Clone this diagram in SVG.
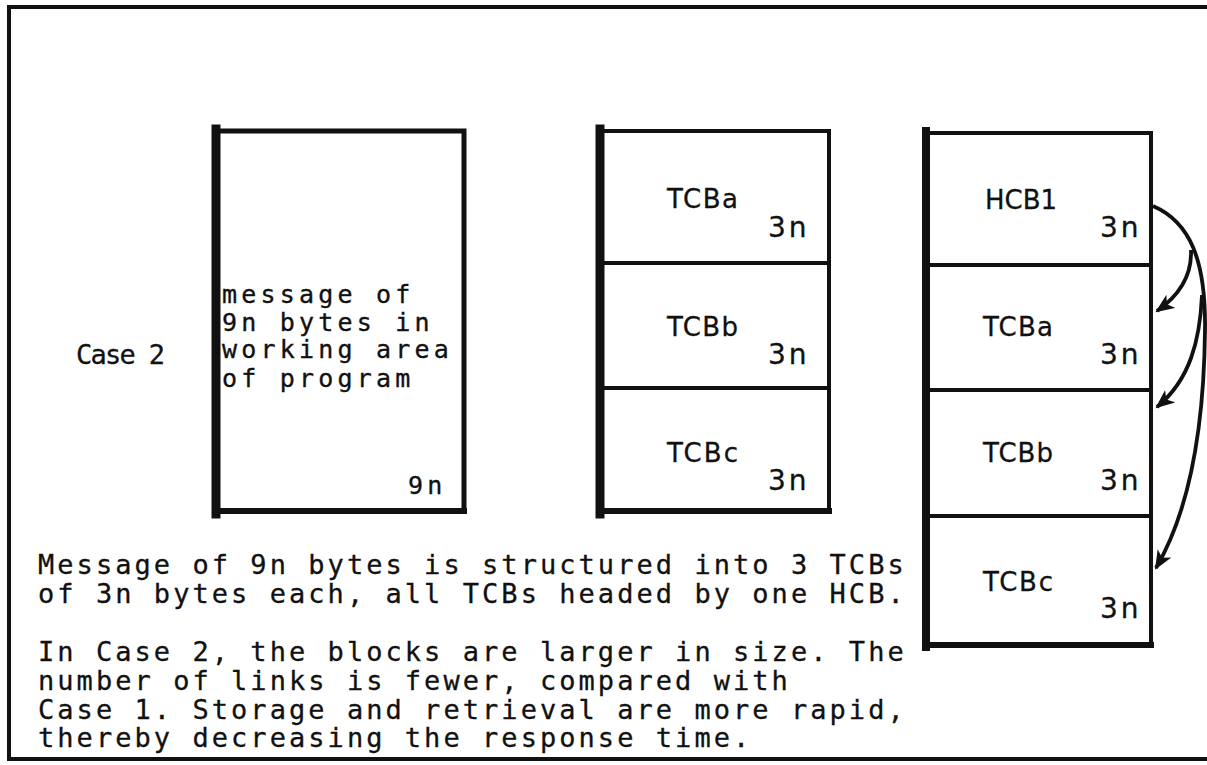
<svg xmlns="http://www.w3.org/2000/svg" width="1207" height="765" viewBox="0 0 1207 765">
<style>
.ln{fill:none;stroke:#111;stroke-linecap:square}
.body{font-family:"DejaVu Sans Mono","Liberation Mono",monospace;font-size:27px;letter-spacing:3.05px;fill:#111;stroke:#111;stroke-width:0.3}
.box{font-family:"DejaVu Sans Mono","Liberation Mono",monospace;font-size:25px;letter-spacing:4.2px;fill:#111;stroke:#111;stroke-width:0.35}
.lbl{font-family:"DejaVu Sans","Liberation Sans",sans-serif;font-size:26px;fill:#111;stroke:#111;stroke-width:0.3}
.num{font-family:"DejaVu Sans","Liberation Sans",sans-serif;font-size:28px;letter-spacing:3px;fill:#111;stroke:#111;stroke-width:0.3}
.arr{fill:none;stroke:#111;stroke-width:3.8}
</style>
<defs>
<marker id="ah" markerUnits="userSpaceOnUse" markerWidth="22" markerHeight="18" refX="17" refY="8" orient="auto">
<path d="M0,0 L19,8 L0,16 L5,8 z" fill="#111"/>
</marker>
</defs>
<rect width="1207" height="765" fill="#fff"/>
<g id="frame">
<path class="ln" d="M1207,7 H9 V759 H1207" stroke-width="4"/>
</g>
<g id="case-label"><text class="body" x="76" y="364" textLength="92">Case 2</text></g>
<g id="message-block">
<rect class="ln" x="217" y="131" width="247" height="380" stroke-width="5"/>
<line class="ln" x1="216" y1="129" x2="216" y2="514" stroke-width="9"/>
<line class="ln" x1="216" y1="511" x2="464" y2="511" stroke-width="6"/>
<text class="box" x="222" y="303">message of</text>
<text class="box" x="222" y="331">9n bytes in</text>
<text class="box" x="222" y="358">working area</text>
<text class="box" x="222" y="387">of program</text>
<text class="box" x="408" y="494">9n</text>
</g>
<g id="tcb-stack">
<rect class="ln" x="600" y="131" width="229" height="380" stroke-width="4"/>
<line class="ln" x1="600" y1="129" x2="600" y2="514" stroke-width="9"/>
<line class="ln" x1="600" y1="511" x2="829" y2="511" stroke-width="6"/>
<line class="ln" x1="600" y1="263" x2="829" y2="263" stroke-width="4"/>
<line class="ln" x1="600" y1="388" x2="829" y2="388" stroke-width="4"/>
<g id="s-tcba"><text class="lbl" x="667" y="208" textLength="71">TCBa</text><text class="num" x="768" y="237">3n</text></g>
<g id="s-tcbb"><text class="lbl" x="667" y="336" textLength="71">TCBb</text><text class="num" x="768" y="364">3n</text></g>
<g id="s-tcbc"><text class="lbl" x="667" y="462" textLength="71">TCBc</text><text class="num" x="768" y="490">3n</text></g>
</g>
<g id="hcb-chain">
<rect class="ln" x="926" y="133" width="225" height="512" stroke-width="4"/>
<line class="ln" x1="926" y1="131" x2="926" y2="647" stroke-width="8"/>
<line class="ln" x1="926" y1="645" x2="1151" y2="645" stroke-width="6"/>
<line class="ln" x1="926" y1="265" x2="1151" y2="265" stroke-width="4"/>
<line class="ln" x1="926" y1="390" x2="1151" y2="390" stroke-width="4"/>
<line class="ln" x1="926" y1="516" x2="1151" y2="516" stroke-width="4"/>
<g id="c-hcb1"><text class="lbl" x="985" y="209" textLength="72">HCB1</text><text class="num" x="1100" y="237">3n</text></g>
<g id="c-tcba"><text class="lbl" x="983" y="336" textLength="70">TCBa</text><text class="num" x="1100" y="364">3n</text></g>
<g id="c-tcbb"><text class="lbl" x="983" y="462" textLength="70">TCBb</text><text class="num" x="1100" y="490">3n</text></g>
<g id="c-tcbc"><text class="lbl" x="983" y="591" textLength="70">TCBc</text><text class="num" x="1100" y="618">3n</text></g>
</g>
<g id="connectors">
<path class="arr" d="M1153,206 C1190,222 1206,260 1205,330 C1204,430 1190,510 1156,568" marker-end="url(#ah)"/>
<path class="arr" d="M1191,250 C1192,275 1180,295 1157,311" marker-end="url(#ah)"/>
<path class="arr" d="M1202,295 C1200,340 1190,380 1157,407" marker-end="url(#ah)"/>
</g>
<g id="caption">
<text class="body" x="38" y="574">Message of 9n bytes is structured into 3 TCBs</text>
<text class="body" x="38" y="603">of 3n bytes each, all TCBs headed by one HCB.</text>
<text class="body" x="38" y="661">In Case 2, the blocks are larger in size. The</text>
<text class="body" x="38" y="690">number of links is fewer, compared with</text>
<text class="body" x="38" y="719">Case 1. Storage and retrieval are more rapid,</text>
<text class="body" x="38" y="747">thereby decreasing the response time.</text>
</g>
</svg>
